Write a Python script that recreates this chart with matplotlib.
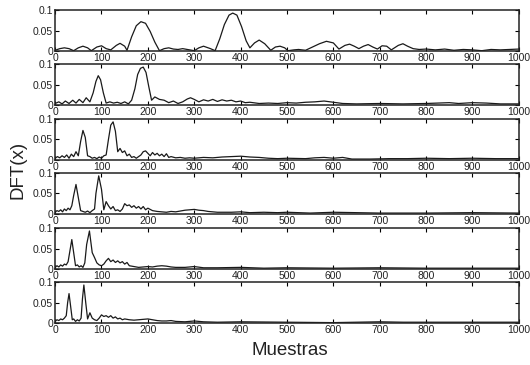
import numpy as np
import matplotlib
matplotlib.use("Agg")
import matplotlib.pyplot as plt

# values (sample index, |DFT|)
x1 = [0,10,20,30,40, 50,60,70,78, 90,100,110, 120,132,140,150,
      155,165,175,185,195,205,215,225, 235,245,255,265,275,285,300,
      310,320,335,345, 355,365,375,383,392,402,412,420, 430,440,452,465,
      475,485,495,502, 515,525,540, 555,570,585,600,612,
      625,635,645,655,665,675,685,695,705,715,725,740,750,760,772,785,800,
      820,840,860,880,900,920,940,960,980,1000]
y1 = [0.002,0.006,0.008,0.006,0.001, 0.008,0.012,0.008,0.001, 0.010,0.013,0.006,
      0.003,0.014,0.019,0.012, 0.002,0.035,0.062,0.072,0.068,0.048,0.022,0.001,
      0.006,0.008,0.005,0.004,0.006,0.004,0.001, 0.008,0.012,0.006,0.001,
      0.030,0.065,0.088,0.093,0.088,0.060,0.025,0.008, 0.020,0.027,0.018,0.002,
      0.010,0.012,0.008,0.001, 0.003,0.004,0.002, 0.010,0.018,0.024,0.020,0.005,
      0.014,0.017,0.012,0.006,0.012,0.016,0.010,0.005,0.013,0.012,0.003,0.014,
      0.018,0.012,0.006,0.004,0.005,
      0.003,0.005,0.002,0.004,0.003,0.001,0.004,0.003,0.004,0.005]

x2 = [0,8,15,22,30,38,45,52,60,67,75, 82,88,93,98,104,110,
      118,126,134,142,150,158,165, 172,178,184,190,196,202,208,
      215,225,235,245,255,265,275,
      285,292,300,310,320,330,340,350,360,370,380,390,400,410,420,
      440,460,480,500,520,540,560,580,600,620,
      650,700,750,800,850,870,900,930,960,1000]
y2 = [0.004,0.008,0.003,0.010,0.004,0.012,0.005,0.014,0.006,0.018,0.008,
      0.030,0.058,0.072,0.062,0.030,0.005,
      0.008,0.005,0.007,0.004,0.008,0.003,0.012,
      0.040,0.075,0.090,0.093,0.080,0.045,0.012,
      0.020,0.014,0.012,0.006,0.010,0.004,0.008,
      0.015,0.018,0.014,0.008,0.013,0.010,0.014,0.009,0.013,0.010,0.012,0.008,0.010,0.006,0.007,
      0.004,0.005,0.004,0.006,0.005,0.007,0.008,0.010,0.007,0.004,
      0.003,0.004,0.003,0.004,0.006,0.004,0.006,0.005,0.003,0.003]

x3 = [0,5,10,15,20,25,30,35,40,45, 50,55,60,65,70,
      75,80,85,90,95,100,105,110, 115,120,125,130,135,
      140,145,150,155,160,165,170,175,180,185,190,195,200,205,210,215,220,225,230,235,240,245,250,
      260,270,280,290,300, 320,340,360,380,400,420,440,460,480,500,
      540,560,580,600,620,640,680,720,760,800,850,900,950,1000]
y3 = [0.004,0.008,0.005,0.010,0.006,0.012,0.004,0.014,0.008,0.020,
      0.010,0.045,0.072,0.055,0.010,
      0.008,0.004,0.006,0.003,0.007,0.004,0.010,0.012,
      0.050,0.085,0.093,0.070,0.020,
      0.028,0.018,0.022,0.010,0.014,0.006,0.008,0.004,0.008,0.012,0.020,0.022,
      0.016,0.010,0.018,0.012,0.016,0.010,0.014,0.008,0.015,0.006,0.008,
      0.005,0.006,0.004,0.005,0.004,
      0.006,0.005,0.007,0.008,0.009,0.007,0.006,0.004,0.003,0.004,
      0.003,0.005,0.006,0.004,0.006,0.002,0.002,0.003,0.003,0.004,0.003,0.004,0.003,0.003]

x4 = [0,4,8,12,16,20,24,28,32,36, 40,45,50,55, 60,65,70,75,80,85, 88,94,100,105,
      110,115,120,125,130,135,140,145,150,155,160,165,170,175,180,185,190,195,200,
      210,220,230,240,250,260,270,280,290,300,310,320,330,
      350,380,400,420,450,480,500,550,600,650,700,800,900,1000]
y4 = [0.004,0.008,0.006,0.010,0.005,0.012,0.008,0.014,0.010,0.020,
      0.045,0.072,0.040,0.008,
      0.006,0.004,0.007,0.003,0.008,0.012,
      0.050,0.093,0.060,0.010,
      0.030,0.020,0.012,0.018,0.008,0.010,0.006,0.012,0.025,0.020,0.022,0.016,
      0.020,0.014,0.018,0.012,0.018,0.010,0.014,
      0.008,0.006,0.005,0.004,0.006,0.005,0.007,0.009,0.010,0.011,0.009,0.008,0.006,
      0.004,0.004,0.005,0.003,0.004,0.003,0.004,0.002,0.004,0.003,0.002,0.002,0.003,0.002]

x5 = [0,4,8,12,16,20,24,28, 32,36,40,44, 48,52,56,60,64, 68,74,80,
      85,90,95,100,105,110,115,120,125,130,135,140,145,150,155,160,
      170,180,190,200,210,220,230,240,250,260,280,300,320,350,400,450,500,600,700,800,900,1000]
y5 = [0.004,0.008,0.005,0.010,0.007,0.012,0.010,0.018,
      0.045,0.072,0.040,0.008,
      0.010,0.005,0.008,0.004,0.015,
      0.060,0.093,0.040,
      0.028,0.015,0.010,0.008,0.012,0.020,0.026,0.018,0.022,0.016,0.020,0.015,0.018,0.012,0.016,0.008,
      0.006,0.004,0.005,0.006,0.005,0.007,0.008,0.007,0.005,0.004,0.004,0.006,0.003,0.003,
      0.004,0.002,0.003,0.002,0.003,0.002,0.002,0.002]

x6 = [0,4,8,12,16,20,24, 27,30,33,37, 40,44,48,52,56, 59,62,66,70,
      75,80,85,90,95,100,105,110,115,120,125,130,135,140,145,150,
      160,170,180,190,200,210,220,230,240,250,260,280,300,320,350,400,500,600,700,750,800,900,1000]
y6 = [0.004,0.008,0.006,0.010,0.008,0.012,0.018,
      0.050,0.072,0.045,0.008,
      0.010,0.004,0.008,0.005,0.012,
      0.060,0.093,0.050,0.010,
      0.025,0.012,0.008,0.006,0.012,0.020,0.016,0.018,0.014,0.018,0.012,0.015,0.010,0.012,0.008,0.010,
      0.008,0.007,0.008,0.009,0.010,0.008,0.006,0.005,0.005,0.006,0.004,0.003,0.005,0.003,
      0.002,0.003,0.002,0.001,0.003,0.002,0.002,0.002,0.002]

series = [(x1, y1), (x2, y2), (x3, y3), (x4, y4), (x5, y5), (x6, y6)]
xticks = list(range(0, 1001, 100))
yticks = [0, 0.05, 0.1]
ytick_labels = ["0", "0.05", "0.1"]

plt.rcParams['font.family'] = ['Liberation Sans', 'DejaVu Sans']

fig = plt.figure(figsize=(5.3, 3.65), dpi=100)

bottoms = [0.860, 0.712, 0.562, 0.414, 0.263, 0.115]
left, width, height = 0.104, 0.875, 0.112

for (xs, ys), b in zip(series, bottoms):
    ax = fig.add_axes([left, b, width, height])
    ax.plot(xs, ys, color='#1a1a1a', lw=0.9)
    ax.set_xlim(0, 1000)
    ax.set_ylim(0, 0.1)
    ax.set_xticks(xticks)
    ax.set_yticks(yticks)
    ax.set_yticklabels(ytick_labels)
    ax.tick_params(direction='in', top=True, right=True, length=3,
                   width=0.8, labelsize=7.5, pad=1.5, labelcolor='#222222')
    for s in ax.spines.values():
        s.set_linewidth(1.1)
        s.set_color('#222222')

fig.text(0.034, 0.534, 'DFT(x)', rotation=90, fontsize=13.5,
         ha='center', va='center', color='#222222')
fig.text(0.547, 0.041, 'Muestras', fontsize=13.5, ha='center', va='center',
         color='#222222')

fig.savefig('out.png', dpi=100)
